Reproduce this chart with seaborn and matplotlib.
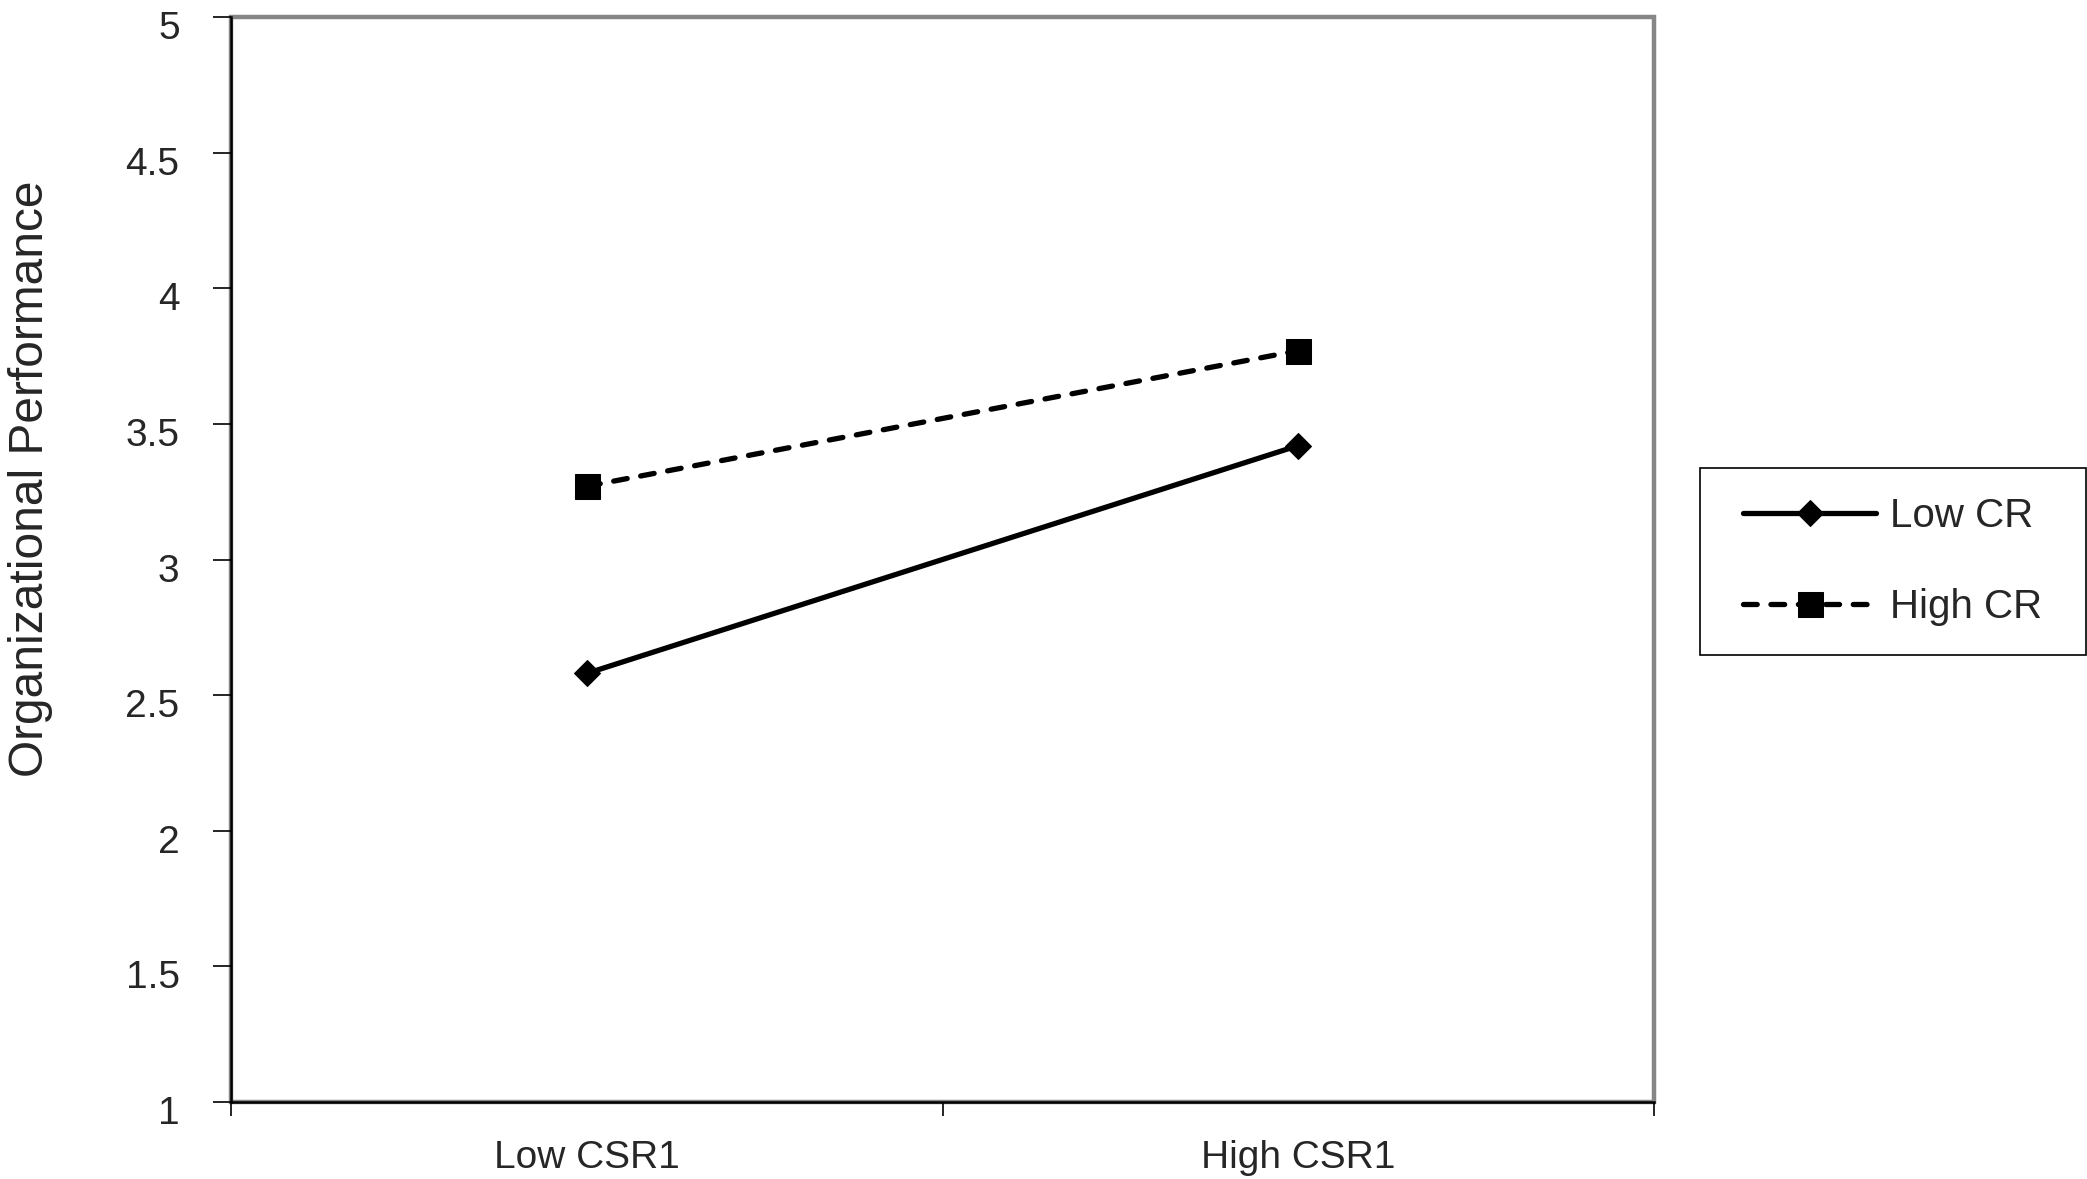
import matplotlib
matplotlib.use("Agg")
import matplotlib.pyplot as plt
import matplotlib.transforms as mtransforms
from matplotlib.path import Path
import seaborn as sns
import pandas as pd

# values
conditions = ["Low CSR1", "High CSR1"]
low_cr = [2.58, 3.42]
high_cr = [3.27, 3.77]
y_ticks = [1, 1.5, 2, 2.5, 3, 3.5, 4, 4.5, 5]

df = pd.DataFrame({
    "pos": list(range(len(conditions))) * 2,
    "score": low_cr + high_cr,
    "group": ["Low CR"] * len(low_cr) + ["High CR"] * len(high_cr),
})

sns.set_theme(style="white")
plt.rcParams["font.family"] = ["Liberation Sans", "DejaVu Sans"]

fig = plt.figure(figsize=(20.87, 11.79), dpi=100)
ax = fig.add_axes([231 / 2087, 1 - 1102 / 1179, (1654 - 231) / 2087, (1102 - 17) / 1179])

styles = {
    "Low CR": dict(marker="D", linestyle="-", markersize=13),
    "High CR": dict(marker="s", linestyle=(0, (2.6, 2.6)), markersize=18),
}
for name, st in styles.items():
    sub = df[df["group"] == name]
    sns.lineplot(data=sub, x="pos", y="score", ax=ax, color="black",
                 linewidth=3.8, markeredgecolor="black", markerfacecolor="black",
                 dash_capstyle="round", label=name, legend=False, **st)

ax.set_xlim(-0.5, len(conditions) - 0.5)
ax.set_ylim(1, 5)
ax.set_yticks(y_ticks)
ax.set_yticklabels([f"{v:g}" for v in y_ticks])
ax.set_xticks([i - 0.5 for i in range(len(conditions) + 1)])
ax.set_xticklabels([])
ax.set_xticks(range(len(conditions)), minor=True)
ax.set_xticklabels(conditions, minor=True)
ax.tick_params(axis="x", which="minor", length=0, pad=27, labelsize=28)
ax.tick_params(axis="x", which="major", direction="out", length=10, width=1.2,
               color="black", bottom=True)
ax.tick_params(axis="y", direction="out", length=13, width=1.2, color="black",
               left=True, pad=24, labelsize=28)
offset = mtransforms.ScaledTranslation(0, -8 / 100, fig.dpi_scale_trans)
for lab in ax.get_yticklabels():
    lab.set_transform(lab.get_transform() + offset)

ax.set_xlabel("")
ax.set_ylabel("Organizational Performance", fontsize=34.5)
ax.yaxis.set_label_coords(-0.125, 0.574)

# gray frame with black axis lines on left and bottom
ax.patch.set_edgecolor("#868686")
ax.patch.set_linewidth(3.2)
for side in ["top", "right"]:
    ax.spines[side].set_visible(False)
for side in ["left", "bottom"]:
    ax.spines[side].set_color("black")
    ax.spines[side].set_linewidth(1.8)
    ax.spines[side].set_visible(True)
ax.grid(False)


def wide_box(x0, y0, width, height, mutation_size):
    # legend frame with more room left/right than top/bottom
    px, py = 0.28 * mutation_size, -0.08 * mutation_size
    x1, y1 = x0 + width + px, y0 + height + py
    x0, y0 = x0 - px, y0 - py
    return Path([(x0, y0), (x1, y0), (x1, y1), (x0, y1), (x0, y0)], closed=True)


handles, labels = ax.get_legend_handles_labels()
leg = fig.legend(handles, labels, loc="center", bbox_to_anchor=(0.907, 0.5237),
                 fontsize=29, frameon=True, fancybox=False, framealpha=1,
                 edgecolor="black", handlelength=3.3, handletextpad=0.35,
                 labelspacing=1.3, borderpad=0.8, numpoints=1)
leg.get_frame().set_linewidth(1.2)
leg.get_frame().set_boxstyle(wide_box)

fig.savefig("out.png", dpi=100)
